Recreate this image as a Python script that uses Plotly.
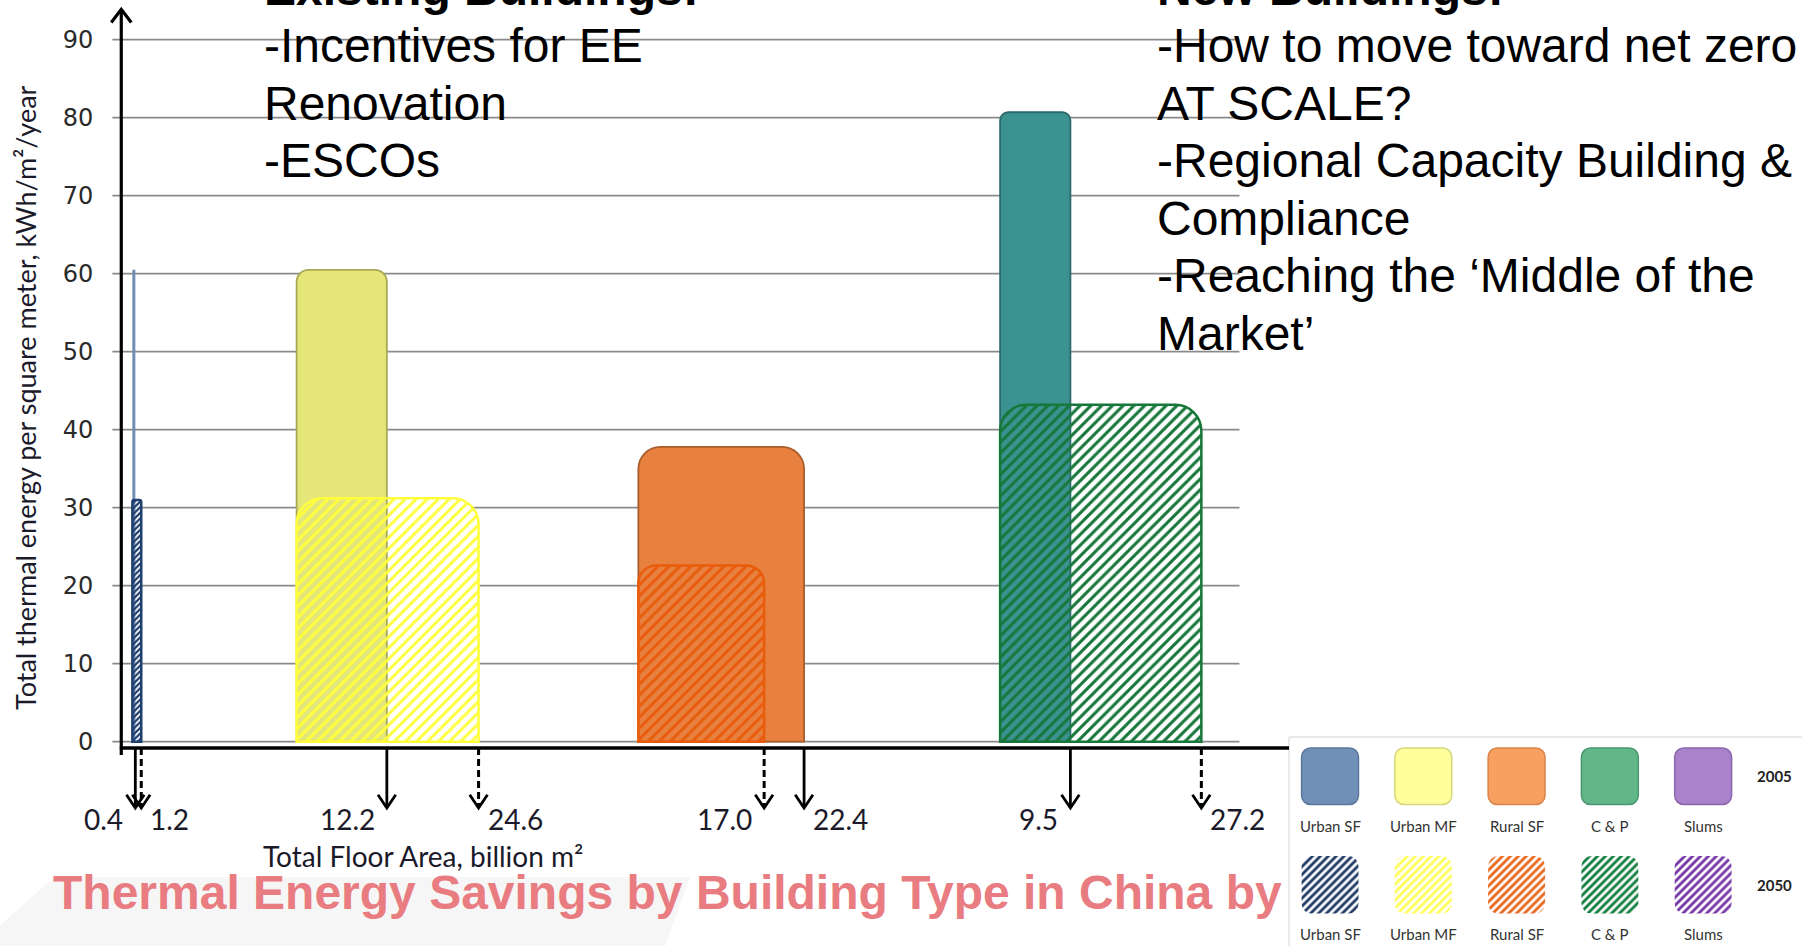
import plotly.graph_objects as go

# ---------------- data ----------------
building_types = ["Urban SF", "Urban MF", "Rural SF", "C & P"]
floor_area_2005 = [0.4, 12.2, 22.4, 9.5]      # billion m2 -> bar widths
floor_area_2050 = [1.2, 24.6, 17.0, 27.2]
energy_2005 = [60.5, 60.5, 37.8, 80.7]        # kWh/m2/year -> bar heights
energy_2050 = [31.0, 31.2, 22.6, 43.2]
y_tick_values = [0, 10, 20, 30, 40, 50, 60, 70, 80, 90]

legend_types = ["Urban SF", "Urban MF", "Rural SF", "C & P", "Slums"]
legend_years = ["2005", "2050"]

left_text = ["Existing Buildings:", "-Incentives for EE", "Renovation", "-ESCOs"]
right_text = ["New Buildings:", "-How to move toward net zero", "AT SCALE?",
              "-Regional Capacity Building &", "Compliance",
              "-Reaching the \u2018Middle of the", "Market\u2019"]
title_text = "Thermal Energy Savings by Building Type in China by"
x_title = "Total Floor Area, billion m\u00b2"
y_title = "Total thermal energy per square meter, kWh/m\u00b2/year"

# ---------------- layout & styles ----------------
W, H = 1802, 946


def px(x):
    return x / W


def py(y):
    return 1 - y / H


group_start = [1.5, 23.7, 69.9, 118.8]  # x-offset of each building group on the axis

fill_2005 = ["#6F8DB4", "#E5E67A", "#E8803F", "#3C9191"]
edge_2005 = ["#5A789E", "#A9A955", "#A95C2C", "#2B6A6A"]
hatch_2050 = ["#1F3F6F", "#FFFF3C", "#E85C0C", "#17773B"]
radius_2005 = [0, 12, 22, 8]
radius_2050 = [2, 26, 18, 26]
hatch_size = [4, 7.8, 7.8, 7.6]
hatch_solid = [0.55, 0.38, 0.38, 0.4]

legend_fill_2005 = ["#7090B8", "#FFFF9C", "#F8A060", "#62B78A", "#A982CB"]
legend_edge_2005 = ["#5A769A", "#D6D67A", "#D8844A", "#4A9670", "#8A66AA"]
legend_hatch_2050 = ["#1F3864", "#FFFF55", "#E8661C", "#0F7E3E", "#7434A4"]

CAL = "Lato, Carlito, Calibri, sans-serif"
ARIAL = "Liberation Sans, Arial, sans-serif"

fig = go.Figure()

# white masks under the 2050 bars (hide the gridlines inside them)
for i, name in enumerate(building_types):
    fig.add_trace(go.Bar(
        x=[group_start[i]], y=[energy_2050[i]], width=[floor_area_2050[i]], offset=0,
        marker=dict(color="white", line=dict(width=0), cornerradius=radius_2050[i]),
        hoverinfo="skip", showlegend=False))

# 2005 bars (solid)
for i, name in enumerate(building_types):
    fig.add_trace(go.Bar(
        x=[group_start[i]], y=[energy_2005[i]], width=[floor_area_2005[i]], offset=0,
        name=name + " 2005",
        marker=dict(color=fill_2005[i],
                    line=dict(color=edge_2005[i], width=0 if i == 0 else 1.8),
                    cornerradius=radius_2005[i]),
        hoverinfo="skip", showlegend=False))

# 2050 bars (hatched)
for i, name in enumerate(building_types):
    fig.add_trace(go.Bar(
        x=[group_start[i]], y=[energy_2050[i]], width=[floor_area_2050[i]], offset=0,
        name=name + " 2050",
        marker=dict(color="rgba(0,0,0,0)",
                    pattern=dict(shape="/", fgcolor=hatch_2050[i], bgcolor="rgba(0,0,0,0)",
                                 size=hatch_size[i], solidity=hatch_solid[i], fillmode="replace"),
                    line=dict(color=hatch_2050[i], width=2.5),
                    cornerradius=radius_2050[i]),
        hoverinfo="skip", showlegend=False))

# axis lines with arrow heads
AX_Y = -0.8
fig.add_trace(go.Scatter(x=[-0.2, 157.85], y=[AX_Y, AX_Y], mode="lines",
                         line=dict(color="black", width=3.5), hoverinfo="skip", showlegend=False))
fig.add_trace(go.Scatter(x=[0, 0, None, -1.35, 0, 1.35], y=[-1.7, 93.9, None, 92.2, 93.9, 92.2],
                         mode="lines", line=dict(color="black", width=3.2),
                         hoverinfo="skip", showlegend=False))

# down arrows marking floor areas
TIP = -8.5
solid_x, solid_y, dash_x, dash_y, head_x, head_y = [], [], [], [], [], []
for i in range(len(building_types)):
    e5 = group_start[i] + floor_area_2005[i]
    e50 = group_start[i] + floor_area_2050[i]
    solid_x += [e5, e5, None]
    solid_y += [AX_Y, TIP + 0.3, None]
    dash_x += [e50, e50, None]
    dash_y += [AX_Y, TIP + 0.3, None]
    for e in (e5, e50):
        head_x += [e - 1.2, e, e + 1.2, None]
        head_y += [TIP + 1.7, TIP, TIP + 1.7, None]
fig.add_trace(go.Scatter(x=solid_x, y=solid_y, mode="lines", line=dict(color="black", width=2.8),
                         hoverinfo="skip", showlegend=False))
fig.add_trace(go.Scatter(x=dash_x, y=dash_y, mode="lines",
                         line=dict(color="black", width=3, dash="7px,4px"),
                         hoverinfo="skip", showlegend=False))
fig.add_trace(go.Scatter(x=head_x, y=head_y, mode="lines", line=dict(color="black", width=2.8),
                         hoverinfo="skip", showlegend=False))

# legend panel (second subplot)
n = len(legend_types)
fig.add_trace(go.Bar(
    x=list(range(n)), y=[56.5] * n, base=[141.5] * n, width=0.61,
    marker=dict(color=legend_fill_2005, line=dict(color=legend_edge_2005, width=1.5), cornerradius=9),
    xaxis="x2", yaxis="y2", hoverinfo="skip", showlegend=False))
fig.add_trace(go.Bar(
    x=list(range(n)), y=[57.5] * n, base=[32.4] * n, width=0.61,
    marker=dict(color="rgba(0,0,0,0)",
                pattern=dict(shape="/", fgcolor=legend_hatch_2050, bgcolor="rgba(0,0,0,0)",
                             size=5.6, solidity=0.5, fillmode="replace"),
                line=dict(width=0), cornerradius=10),
    xaxis="x2", yaxis="y2", hoverinfo="skip", showlegend=False))

annotations = []
for row_y in (120, 12):
    for j, t in enumerate(legend_types):
        annotations.append(dict(xref="x2", yref="y2", x=j, y=row_y, text=t, showarrow=False,
                                xanchor="center", yanchor="middle",
                                font=dict(family=CAL, size=15, color="#333333")))
for yr, row_y in zip(legend_years, (170, 61)):
    annotations.append(dict(xref="x2", yref="y2", x=4.77, y=row_y, text="<b>" + yr + "</b>",
                            showarrow=False, xanchor="center", yanchor="middle",
                            font=dict(family=CAL, size=15, color="#222222")))

# x "tick" labels next to arrows
for i in range(len(building_types)):
    vals = sorted([floor_area_2005[i], floor_area_2050[i]])
    annotations.append(dict(xref="x", yref="paper", x=group_start[i] + vals[0], y=py(819),
                            text=f"{vals[0]:.1f}", showarrow=False, xanchor="right", xshift=-10,
                            yanchor="middle", font=dict(family=CAL, size=28, color="#1a1a2a")))
    annotations.append(dict(xref="x", yref="paper", x=group_start[i] + vals[1], y=py(819),
                            text=f"{vals[1]:.1f}", showarrow=False, xanchor="left", xshift=7,
                            yanchor="middle", font=dict(family=CAL, size=28, color="#1a1a2a")))

# axis titles
annotations.append(dict(xref="paper", yref="paper", x=px(423), y=py(856), text=x_title,
                        showarrow=False, xanchor="center", yanchor="middle",
                        font=dict(family=CAL, size=28, color="#1a1a2a")))
annotations.append(dict(xref="paper", yref="paper", x=px(25), y=py(398), text=y_title,
                        textangle=-90, showarrow=False, xanchor="center", yanchor="middle",
                        font=dict(family=CAL, size=27, color="#1a1a2a")))

# text blocks
LINE0, STEP = -11.4, 57.4
for k, t in enumerate(left_text):
    annotations.append(dict(xref="paper", yref="paper", x=px(262), y=py(LINE0 + k * STEP),
                            text=("<b>" + t + "</b>") if k == 0 else t, showarrow=False,
                            xanchor="left", yanchor="middle",
                            font=dict(family=ARIAL, size=48, color="black")))
for k, t in enumerate(right_text):
    annotations.append(dict(xref="paper", yref="paper", x=px(1155), y=py(LINE0 + k * STEP),
                            text=("<b>" + t + "</b>") if k == 0 else t, showarrow=False,
                            xanchor="left", yanchor="middle",
                            font=dict(family=ARIAL, size=48, color="black")))

# slide title
annotations.append(dict(xref="paper", yref="paper", x=px(51), y=py(892), text="<b>" + title_text + "</b>",
                        showarrow=False, xanchor="left", yanchor="middle",
                        font=dict(family=ARIAL, size=48, color="#E87C80")))

shapes = []
# faint slide decoration
shapes.append(dict(type="path", xref="paper", yref="paper", layer="below",
                   path=f"M 0 {py(946)} L 0 {py(925)} L {px(55)} {py(877)} L {px(690)} {py(877)} "
                        f"L {px(665)} {py(946)} Z",
                   fillcolor="#F6F6F6", line=dict(width=0)))
# legend box
shapes.append(dict(type="rect", xref="paper", yref="paper", layer="below",
                   x0=px(1289), x1=px(1805), y0=py(950), y1=py(737),
                   fillcolor="white", line=dict(color="#D4D4D4", width=1)))
# gridlines
for v in y_tick_values:
    shapes.append(dict(type="line", xref="x", yref="y", layer="below",
                       x0=-1.2, x1=151.15, y0=v, y1=v,
                       line=dict(color="#8A8A8A", width=1.7)))

fig.update_layout(
    width=W, height=H,
    margin=dict(l=0, r=0, t=0, b=0, autoexpand=False),
    paper_bgcolor="white", plot_bgcolor="rgba(0,0,0,0)",
    barmode="overlay", showlegend=False,
    xaxis=dict(domain=[px(105), px(1289)], range=[-2.2, 157.85], visible=False, fixedrange=True),
    yaxis=dict(domain=[py(815), py(5)], range=[-9.4, 94.45], tickvals=y_tick_values,
               showgrid=False, zeroline=False, showline=False,
               ticks="outside", ticklen=6, tickcolor="rgba(0,0,0,0)",
               tickfont=dict(family="DejaVu Sans, Verdana, sans-serif", size=24, color="#2a2a2a"),
               fixedrange=True),
    xaxis2=dict(domain=[px(1289), 1], range=[-0.44, 5.06], visible=False, anchor="y2", fixedrange=True),
    yaxis2=dict(domain=[0, py(737)], range=[0, 209], visible=False, anchor="x2", fixedrange=True),
    annotations=annotations, shapes=shapes,
)

fig.write_html("out.html", config={"displayModeBar": False},
               post_script="document.body.style.margin='0';document.body.style.overflow='hidden';")
